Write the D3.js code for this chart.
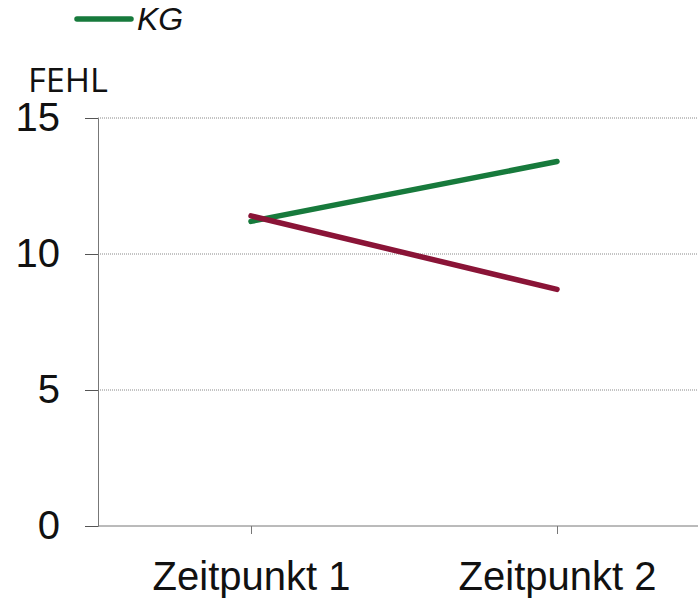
<!DOCTYPE html>
<html>
<head>
<meta charset="utf-8">
<script src="https://cdn.jsdelivr.net/npm/d3@7"></script>
<style>
  body { margin: 0; background: #fff; }
  text { font-family: "Liberation Sans", Arial, sans-serif; fill: #111; }
</style>
</head>
<body>
<div id="chart"></div>
<script>
var categories = ["Zeitpunkt 1", "Zeitpunkt 2"],
  kgValues = [11.2, 13.4],
  egValues = [11.4, 8.7],
  yTicks = [0, 5, 10, 15],
  legendLabel = "KG",
  yLabel = "FEHL";

var width = 698,
  height = 601,
  margin = { top: 118, left: 98 };

var svg = d3.select("#chart").append("svg")
  .attr("width", width)
  .attr("height", height);

// the point scale runs past the right edge, like the original
var x = d3.scalePoint().domain(categories).range([margin.left, 710]).padding(0.5),
  y = d3.scaleLinear().domain([0, 15]).range([526, margin.top]);

// dotted gridlines
svg.append("g")
  .selectAll("line")
  .data(yTicks.filter(function(d) { return d > 0; }))
  .enter().append("line")
  .attr("x1", margin.left)
  .attr("x2", width)
  .attr("y1", function(d) { return y(d); })
  .attr("y2", function(d) { return y(d); })
  .attr("stroke", "#888")
  .attr("stroke-width", 1)
  .attr("stroke-dasharray", "1,1");

// y axis
var yAxis = d3.axisLeft(y).tickValues(yTicks).tickSize(13).tickPadding(25);
var gy = svg.append("g")
  .attr("transform", "translate(" + margin.left + ",0)")
  .call(yAxis);
gy.select(".domain").attr("stroke", "#777");
gy.selectAll(".tick line").attr("stroke", "#555");
gy.selectAll(".tick text")
  .style("font-size", "40px")
  .attr("fill", "#111");

// x axis
var xAxis = d3.axisBottom(x).tickSize(8).tickSizeOuter(0).tickPadding(28);
var gx = svg.append("g")
  .attr("transform", "translate(0," + y(0) + ")")
  .call(xAxis);
gx.select(".domain").attr("stroke", "#777").attr("d", "M" + margin.left + ",0H" + width);
gx.selectAll(".tick line").attr("stroke", "#777");
gx.selectAll(".tick text")
  .style("font-size", "40px")
  .attr("fill", "#111");

// lines
var line = d3.line()
  .x(function(d, i) { return x(categories[i]); })
  .y(function(d) { return y(d); });

svg.append("path")
  .datum(kgValues)
  .attr("d", line)
  .attr("fill", "none")
  .attr("stroke", "#177a3c")
  .attr("stroke-width", 5.5)
  .attr("stroke-linecap", "round");

svg.append("path")
  .datum(egValues)
  .attr("d", line)
  .attr("fill", "none")
  .attr("stroke", "#8a1437")
  .attr("stroke-width", 5.5)
  .attr("stroke-linecap", "round");

// legend
svg.append("line")
  .attr("x1", 77).attr("x2", 131)
  .attr("y1", 19).attr("y2", 19)
  .attr("stroke", "#177a3c")
  .attr("stroke-width", 5.5)
  .attr("stroke-linecap", "round");
svg.append("text")
  .attr("x", 137)
  .attr("y", 30)
  .style("font-size", "32px")
  .style("font-style", "italic")
  .text(legendLabel);

// y label
svg.append("text")
  .attr("x", 28)
  .attr("y", 92)
  .attr("textLength", 80)
  .attr("lengthAdjust", "spacingAndGlyphs")
  .style("font-size", "32px")
  .style("font-weight", "500")
  .style("font-family", "'Open Sans', 'Noto Sans', sans-serif")
  .text(yLabel);
</script>
</body>
</html>
